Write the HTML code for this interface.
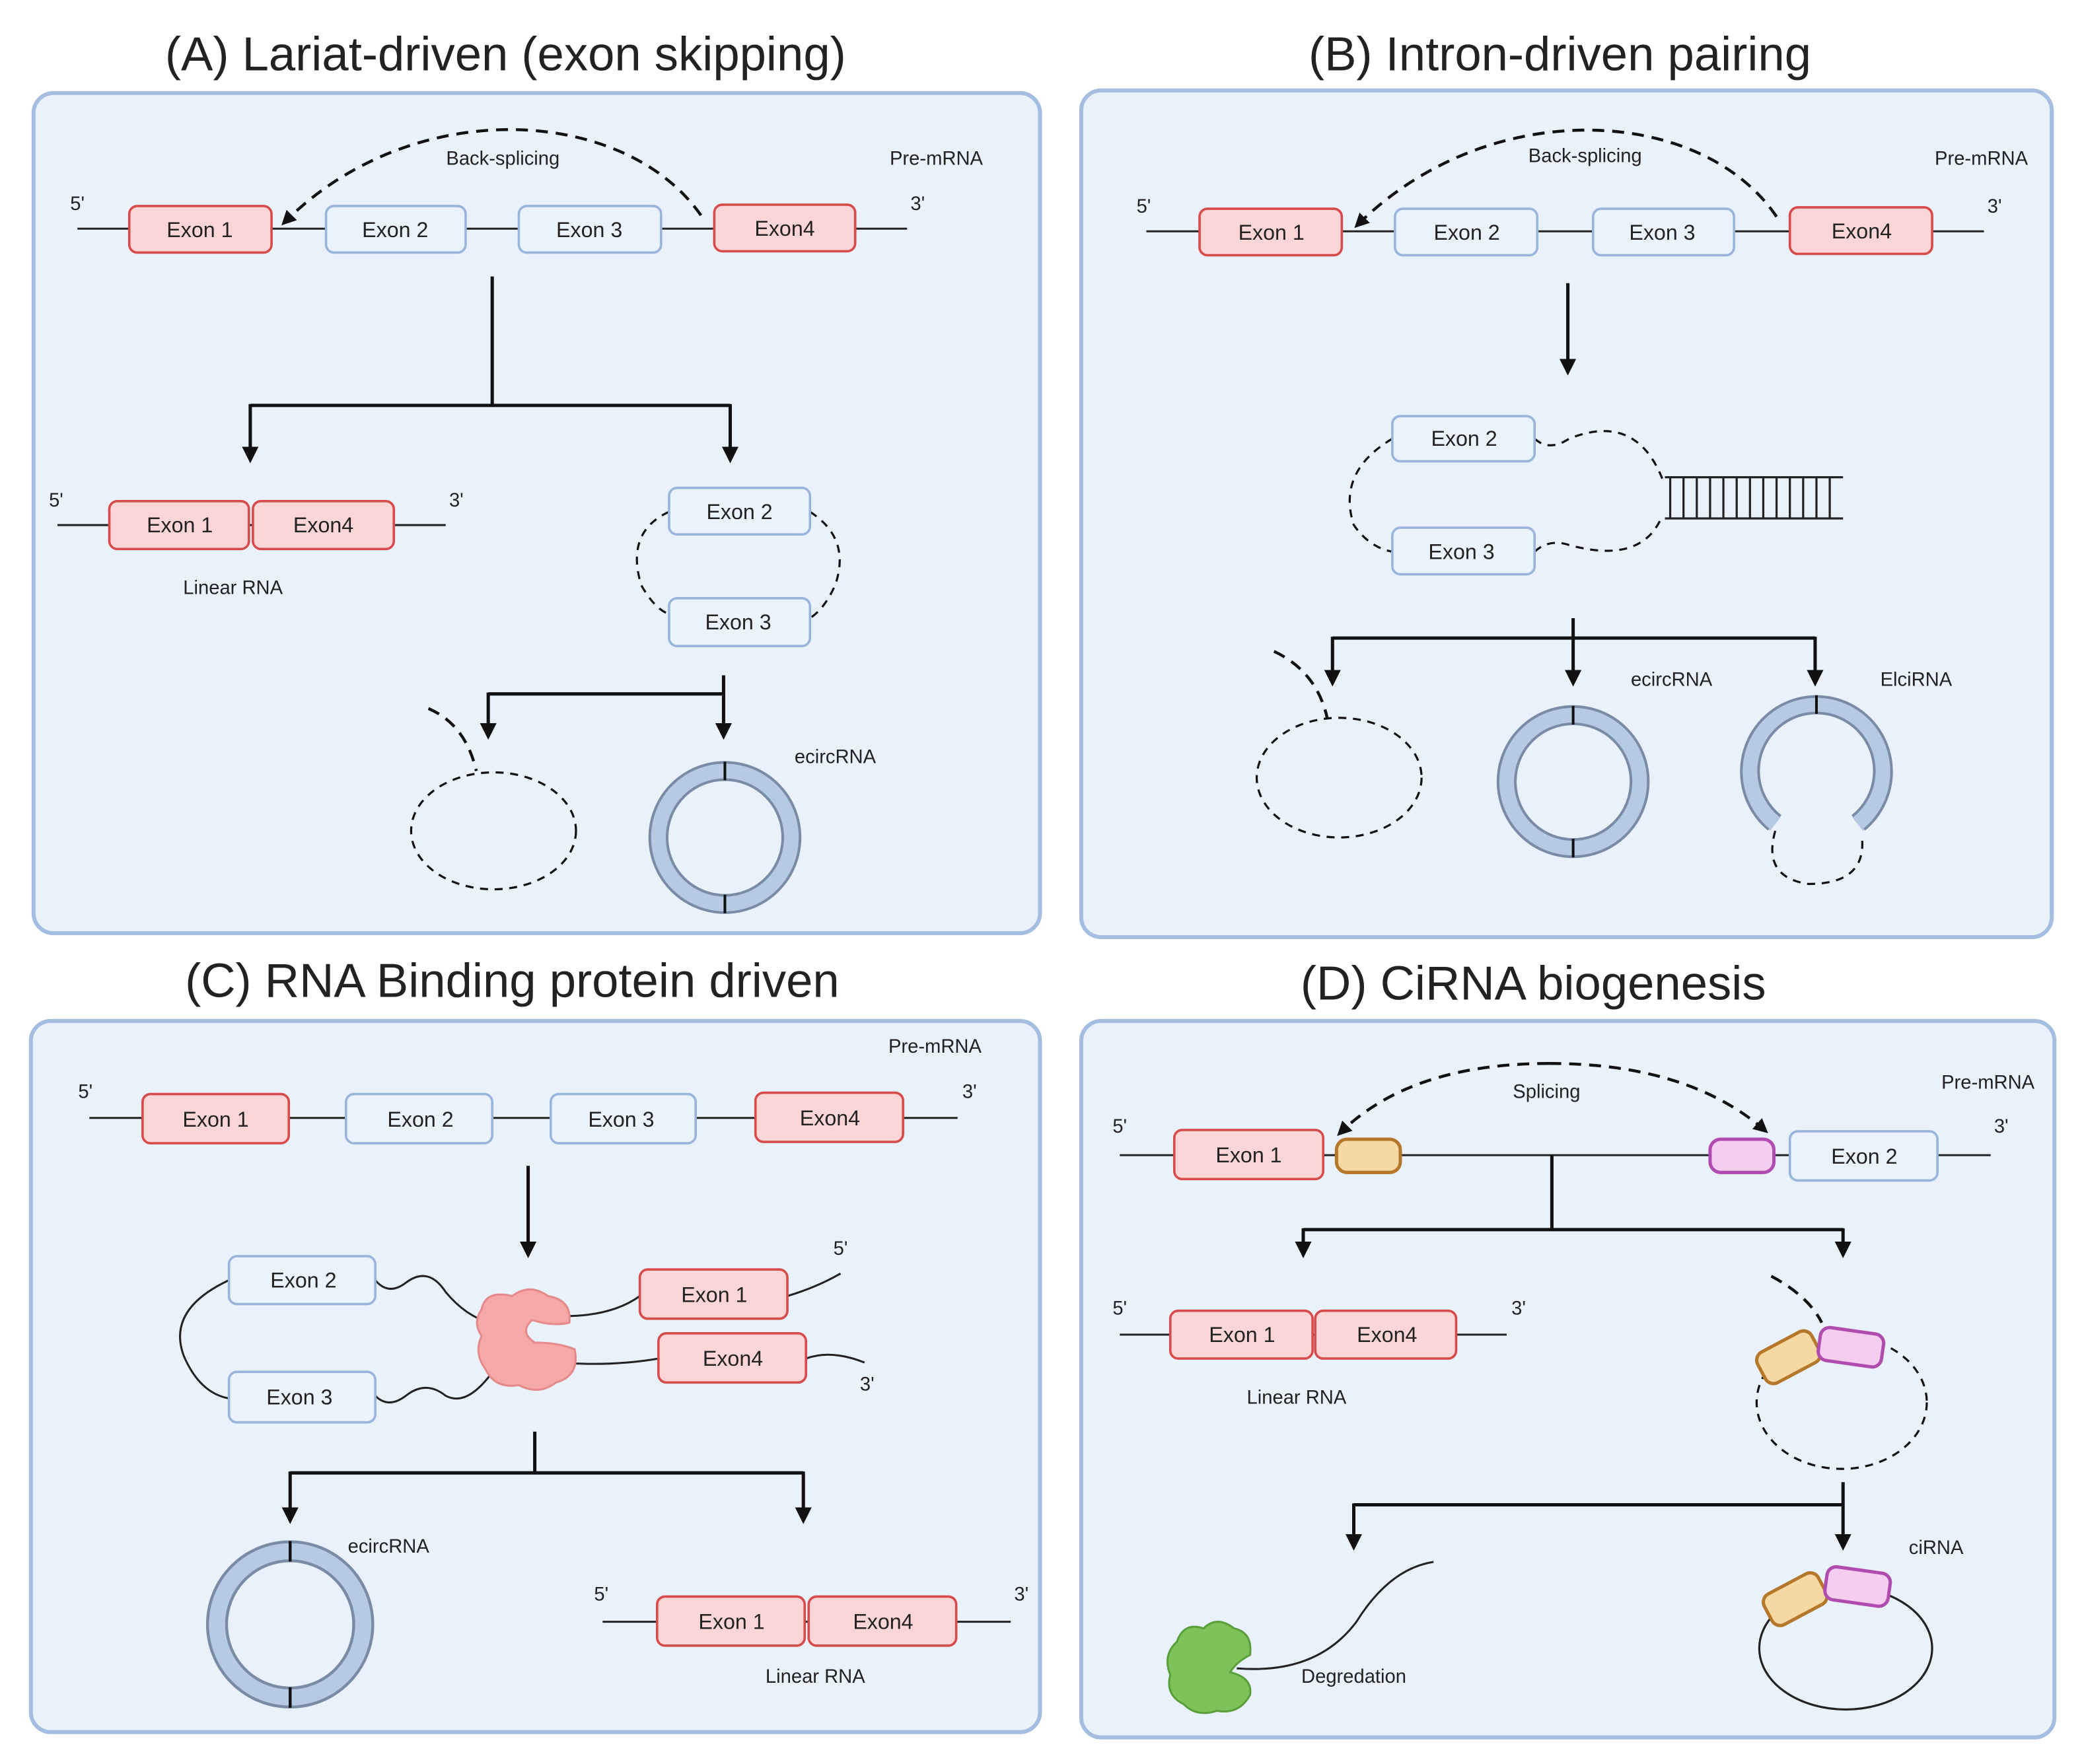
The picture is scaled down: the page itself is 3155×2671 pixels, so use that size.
<!DOCTYPE html>
<html><head><meta charset="utf-8"><style>
html,body{margin:0;padding:0;background:#fff}
svg{display:block}
text{font-family:"Liberation Sans",sans-serif;fill:#222}
.t{font-size:36px;text-anchor:middle}
.e{font-size:16px;text-anchor:middle;dominant-baseline:central}
.s{font-size:14.5px;text-anchor:middle}
.p{fill:#e9f1fb;stroke:#a4bde0;stroke-width:3}
.r{fill:#fcd6d6;stroke:#d84b4b;stroke-width:1.8}
.b{fill:#eaf2fb;stroke:#9ab5db;stroke-width:1.8}
.l{stroke:#222;stroke-width:1.5;fill:none}
.k{stroke:#111;stroke-width:2.5;fill:none}
.d{stroke:#111;stroke-width:1.6;fill:none;stroke-dasharray:6 5}
.dd{stroke:#111;stroke-width:2.2;fill:none;stroke-dasharray:9 6}
.or{fill:#f6d9a2;stroke:#b5782a;stroke-width:2.5}
.pk{fill:#f5cdef;stroke:#b04bb0;stroke-width:2.5}
</style></head><body>
<svg width="3155" height="2671" viewBox="0 0 1567 1327" xmlns="http://www.w3.org/2000/svg">
<defs>
<marker id="a" viewBox="0 0 10 10" refX="8" refY="5" markerWidth="5" markerHeight="5" orient="auto"><path d="M0,0L10,5L0,10z" fill="#111"/></marker>
<g id="ring"><circle r="50" fill="none" stroke="#b7cae3" stroke-width="13"/><circle r="56.5" fill="none" stroke="#7a8ba6" stroke-width="2"/><circle r="43.5" fill="none" stroke="#7a8ba6" stroke-width="2"/><line x1="0" y1="-57" x2="0" y2="-43" stroke="#111" stroke-width="2"/><line x1="0" y1="43" x2="0" y2="57" stroke="#111" stroke-width="2"/></g>
</defs>

<text class="t" x="380" y="53">(A) Lariat-driven (exon skipping)</text>
<text class="t" x="1173" y="53">(B) Intron-driven pairing</text>
<text class="t" x="385" y="750">(C) RNA Binding protein driven</text>
<text class="t" x="1153" y="752">(D) CiRNA biogenesis</text>

<rect class="p" x="25" y="70" width="757" height="632" rx="15"/>
<rect class="p" x="813" y="68" width="730" height="637" rx="15"/>
<rect class="p" x="23" y="768" width="759" height="535" rx="15"/>
<rect class="p" x="813" y="768" width="732" height="539" rx="15"/>

<!-- Panel A -->
<line class="l" x1="58" y1="172" x2="682" y2="172"/>
<rect class="r" x="97" y="155" width="107" height="35" rx="6"/><text class="e" x="150" y="173">Exon 1</text>
<rect class="b" x="245" y="155" width="105" height="35" rx="6"/><text class="e" x="297" y="173">Exon 2</text>
<rect class="b" x="390" y="155" width="107" height="35" rx="6"/><text class="e" x="443" y="173">Exon 3</text>
<rect class="r" x="537" y="154" width="106" height="35" rx="6"/><text class="e" x="590" y="172">Exon4</text>
<text class="s" x="58" y="158">5'</text><text class="s" x="690" y="158">3'</text>
<text class="s" x="704" y="124">Pre-mRNA</text>
<path class="dd" d="M527,162 C470,80 310,70 213,168" marker-end="url(#a)"/>
<text class="s" x="378" y="124">Back-splicing</text>
<line class="k" x1="370" y1="208" x2="370" y2="305"/>
<line class="k" x1="188" y1="305" x2="549" y2="305"/>
<line class="k" x1="188" y1="304" x2="188" y2="346" marker-end="url(#a)"/>
<line class="k" x1="549" y1="304" x2="549" y2="346" marker-end="url(#a)"/>
<line class="l" x1="43" y1="395" x2="335" y2="395"/>
<rect class="r" x="82" y="377" width="105" height="36" rx="6"/><text class="e" x="135" y="395">Exon 1</text>
<rect class="r" x="190" y="377" width="106" height="36" rx="6"/><text class="e" x="243" y="395">Exon4</text>
<text class="s" x="42" y="381">5'</text><text class="s" x="343" y="381">3'</text>
<text class="s" x="175" y="447">Linear RNA</text>
<path class="d" d="M503,385 Q470,400 482,440 Q492,458 503,462"/>
<path class="d" d="M609,385 Q640,405 628,440 Q620,458 609,465"/>
<rect class="b" x="503" y="367" width="106" height="35" rx="6"/><text class="e" x="556" y="385">Exon 2</text>
<rect class="b" x="503" y="450" width="106" height="36" rx="6"/><text class="e" x="555" y="468">Exon 3</text>
<line class="k" x1="544" y1="508" x2="544" y2="554" marker-end="url(#a)"/>
<line class="k" x1="367" y1="522" x2="545" y2="522"/>
<line class="k" x1="367" y1="521" x2="367" y2="554" marker-end="url(#a)"/>
<ellipse class="d" cx="371" cy="625" rx="62" ry="44"/>
<path class="dd" d="M322,533 Q350,545 358,580"/>
<use href="#ring" x="545" y="630"/>
<text class="s" x="628" y="574">ecircRNA</text>

<!-- Panel B -->
<line class="l" x1="862" y1="174" x2="1492" y2="174"/>
<rect class="r" x="902" y="157" width="107" height="35" rx="6"/><text class="e" x="956" y="175">Exon 1</text>
<rect class="b" x="1049" y="157" width="107" height="35" rx="6"/><text class="e" x="1103" y="175">Exon 2</text>
<rect class="b" x="1198" y="157" width="106" height="35" rx="6"/><text class="e" x="1250" y="175">Exon 3</text>
<rect class="r" x="1346" y="156" width="107" height="35" rx="6"/><text class="e" x="1400" y="174">Exon4</text>
<text class="s" x="860" y="160">5'</text><text class="s" x="1500" y="160">3'</text>
<text class="s" x="1490" y="124">Pre-mRNA</text>
<path class="dd" d="M1336,163 C1280,80 1120,70 1020,170" marker-end="url(#a)"/>
<text class="s" x="1192" y="122">Back-splicing</text>
<line class="k" x1="1179" y1="213" x2="1179" y2="280" marker-end="url(#a)"/>
<path class="d" d="M1047,330 Q1005,355 1018,395 Q1030,412 1047,415"/>
<path class="d" d="M1154,330 Q1165,340 1180,330 Q1230,310 1250,360"/>
<path class="d" d="M1154,415 Q1165,405 1180,410 Q1235,425 1250,388"/>
<rect class="b" x="1047" y="313" width="107" height="34" rx="6"/><text class="e" x="1101" y="330">Exon 2</text>
<rect class="b" x="1047" y="397" width="107" height="35" rx="6"/><text class="e" x="1099" y="415">Exon 3</text>
<g stroke="#222" stroke-width="1.6">
<line x1="1252" y1="359" x2="1386" y2="359"/><line x1="1252" y1="390" x2="1386" y2="390"/>
<path d="M1256,359V390M1266,359V390M1276,359V390M1286,359V390M1296,359V390M1306,359V390M1316,359V390M1326,359V390M1336,359V390M1346,359V390M1356,359V390M1366,359V390M1376,359V390"/>
</g>
<line class="k" x1="1183" y1="465" x2="1183" y2="514" marker-end="url(#a)"/>
<line class="k" x1="1002" y1="480" x2="1365" y2="480"/>
<line class="k" x1="1002" y1="479" x2="1002" y2="514" marker-end="url(#a)"/>
<line class="k" x1="1365" y1="479" x2="1365" y2="514" marker-end="url(#a)"/>
<ellipse class="d" cx="1007" cy="585" rx="62" ry="45"/>
<path class="dd" d="M958,490 Q990,505 998,540"/>
<use href="#ring" x="1183" y="588"/>
<path d="M1335,620 A50,50 0 1 1 1397,620" fill="none" stroke="#b7cae3" stroke-width="13"/>
<path d="M1330,624 A56.5,56.5 0 1 1 1402,624" fill="none" stroke="#7a8ba6" stroke-width="2"/>
<path d="M1339,614 A43.5,43.5 0 1 1 1393,614" fill="none" stroke="#7a8ba6" stroke-width="2"/>
<line x1="1366" y1="523" x2="1366" y2="537" stroke="#111" stroke-width="2"/>
<path class="d" d="M1335,625 Q1325,660 1360,665 Q1405,665 1400,628"/>
<text class="s" x="1257" y="516">ecircRNA</text>
<text class="s" x="1441" y="516">ElciRNA</text>

<!-- Panel C -->
<line class="l" x1="67" y1="841" x2="720" y2="841"/>
<rect class="r" x="107" y="823" width="110" height="37" rx="6"/><text class="e" x="162" y="842">Exon 1</text>
<rect class="b" x="260" y="823" width="110" height="37" rx="6"/><text class="e" x="316" y="842">Exon 2</text>
<rect class="b" x="414" y="823" width="109" height="37" rx="6"/><text class="e" x="467" y="842">Exon 3</text>
<rect class="r" x="568" y="822" width="111" height="37" rx="6"/><text class="e" x="624" y="841">Exon4</text>
<text class="s" x="64" y="826">5'</text><text class="s" x="729" y="826">3'</text>
<text class="s" x="703" y="792">Pre-mRNA</text>
<line class="k" x1="397" y1="877" x2="397" y2="944" marker-end="url(#a)"/>
<path class="l" d="M172,963 Q125,985 138,1020 Q150,1048 172,1052"/>
<path class="l" d="M282,963 Q292,975 305,965 Q322,952 335,972 Q350,990 368,995"/>
<path class="l" d="M282,1050 Q292,1060 305,1050 Q320,1038 335,1050 Q350,1058 368,1035"/>
<rect class="b" x="172" y="945" width="110" height="36" rx="6"/><text class="e" x="228" y="963">Exon 2</text>
<rect class="b" x="172" y="1032" width="110" height="38" rx="6"/><text class="e" x="225" y="1051">Exon 3</text>
<path class="l" d="M425,990 Q460,990 481,975"/>
<path class="l" d="M420,1025 Q460,1028 495,1022"/>
<path class="l" d="M592,975 Q615,968 632,958"/>
<path class="l" d="M606,1022 Q625,1015 650,1025"/>
<g fill="#f6a7a7" stroke="#e58989" stroke-width="1.5">
<path d="M362,985 Q365,970 385,975 Q398,965 412,975 Q430,978 428,995 Q415,998 400,993 Q390,1002 402,1010 Q420,1010 432,1015 Q436,1035 418,1040 Q405,1050 390,1042 Q372,1045 365,1030 Q356,1018 362,1005 Q355,995 362,985z"/>
</g>
<rect class="r" x="481" y="955" width="111" height="37" rx="6"/><text class="e" x="537" y="974">Exon 1</text>
<rect class="r" x="495" y="1003" width="111" height="37" rx="6"/><text class="e" x="551" y="1022">Exon4</text>
<text class="s" x="632" y="944">5'</text><text class="s" x="652" y="1046">3'</text>
<line class="k" x1="402" y1="1077" x2="402" y2="1108"/>
<line class="k" x1="218" y1="1108" x2="604" y2="1108"/>
<line class="k" x1="218" y1="1107" x2="218" y2="1144" marker-end="url(#a)"/>
<line class="k" x1="604" y1="1107" x2="604" y2="1144" marker-end="url(#a)"/>
<g transform="translate(218,1222) scale(1.1)"><use href="#ring"/></g>
<text class="s" x="292" y="1168">ecircRNA</text>
<line class="l" x1="453" y1="1220" x2="760" y2="1220"/>
<rect class="r" x="494" y="1201" width="111" height="37" rx="6"/><text class="e" x="550" y="1220">Exon 1</text>
<rect class="r" x="608" y="1201" width="111" height="37" rx="6"/><text class="e" x="664" y="1220">Exon4</text>
<text class="s" x="452" y="1204">5'</text><text class="s" x="768" y="1204">3'</text>
<text class="s" x="613" y="1266">Linear RNA</text>

<!-- Panel D -->
<line class="l" x1="842" y1="869" x2="1497" y2="869"/>
<rect class="r" x="883" y="850" width="112" height="37" rx="6"/><text class="e" x="939" y="869">Exon 1</text>
<rect class="or" x="1005" y="857" width="48" height="25" rx="8"/>
<rect class="pk" x="1286" y="857" width="48" height="25" rx="8"/>
<rect class="b" x="1346" y="851" width="111" height="37" rx="6"/><text class="e" x="1402" y="870">Exon 2</text>
<text class="s" x="842" y="852">5'</text><text class="s" x="1505" y="852">3'</text>
<text class="s" x="1495" y="819">Pre-mRNA</text>
<path class="dd" d="M1165,800 Q1060,800 1007,853" marker-end="url(#a)"/>
<path class="dd" d="M1165,800 Q1270,800 1328,851" marker-end="url(#a)"/>
<text class="s" x="1163" y="826">Splicing</text>
<line class="k" x1="1167" y1="869" x2="1167" y2="925"/>
<line class="k" x1="980" y1="925" x2="1386" y2="925"/>
<line class="k" x1="980" y1="924" x2="980" y2="944" marker-end="url(#a)"/>
<line class="k" x1="1386" y1="924" x2="1386" y2="944" marker-end="url(#a)"/>
<line class="l" x1="842" y1="1004" x2="1133" y2="1004"/>
<rect class="r" x="880" y="986" width="107" height="36" rx="6"/><text class="e" x="934" y="1004">Exon 1</text>
<rect class="r" x="989" y="986" width="106" height="36" rx="6"/><text class="e" x="1043" y="1004">Exon4</text>
<text class="s" x="842" y="989">5'</text><text class="s" x="1142" y="989">3'</text>
<text class="s" x="975" y="1056">Linear RNA</text>
<path class="dd" d="M1332,960 Q1360,975 1370,995"/>
<ellipse class="d" cx="1385" cy="1055" rx="64" ry="50"/>
<rect class="or" x="1322" y="1008" width="46" height="26" rx="7" transform="rotate(-28 1345 1021)"/>
<rect class="pk" x="1368" y="1001" width="48" height="25" rx="7" transform="rotate(8 1392 1013)"/>
<line class="k" x1="1386" y1="1115" x2="1386" y2="1164" marker-end="url(#a)"/>
<line class="k" x1="1018" y1="1132" x2="1386" y2="1132"/>
<line class="k" x1="1018" y1="1131" x2="1018" y2="1164" marker-end="url(#a)"/>
<ellipse cx="1388" cy="1240" rx="65" ry="46" fill="none" stroke="#222" stroke-width="1.6"/>
<rect class="or" x="1327" y="1190" width="46" height="26" rx="7" transform="rotate(-28 1350 1203)"/>
<rect class="pk" x="1373" y="1181" width="48" height="25" rx="7" transform="rotate(8 1397 1193)"/>
<text class="s" x="1456" y="1169">ciRNA</text>
<path class="l" d="M930,1255 Q990,1260 1020,1220 Q1045,1180 1078,1175"/>
<path d="M885,1235 Q890,1220 905,1225 Q915,1215 928,1225 Q942,1228 940,1245 Q930,1250 925,1258 Q942,1262 940,1275 Q932,1290 915,1287 Q900,1292 890,1282 Q876,1275 880,1260 Q874,1245 885,1235z" fill="#7fc25a" stroke="#5aa03a" stroke-width="1.5"/>
<text class="s" x="1018" y="1266">Degredation</text>
</svg>
</body></html>
